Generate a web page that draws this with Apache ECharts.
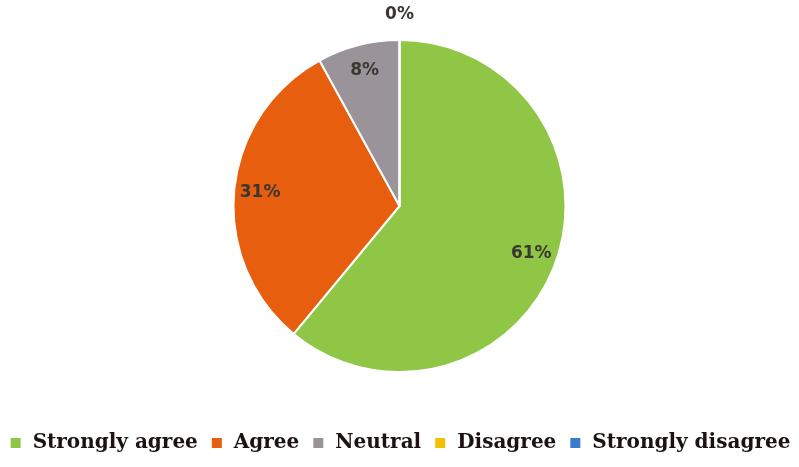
<!DOCTYPE html>
<html>
<head>
<meta charset="utf-8">
<script src="https://cdn.jsdelivr.net/npm/echarts@6/dist/echarts.min.js"></script>
<style>
html,body{margin:0;padding:0;background:#fff;}
#chart{width:799px;height:467px;}
</style>
</head>
<body>
<div id="chart"></div>
<script>
const categories = ['Strongly agree', 'Agree', 'Neutral', 'Disagree', 'Strongly disagree'];
const values = [61, 31, 8, 0, 0];
const colors = ['#90c646', '#e65e0e', '#9b939a', '#f2c200', '#3b7bcf'];

const chart = echarts.init(document.getElementById('chart'));
const center = ['50%', 206];
const mainData = categories.map((c, i) => ({ name: c, value: values[i], itemStyle: { color: colors[i] } }));
const ghostData = categories.map((c, i) => ({ name: c, value: values[i] }));
const labelFont = { fontFamily: 'DejaVu Sans', fontWeight: 'bold', fontSize: 17, color: '#3a3630' };

chart.setOption({
  animation: false,
  backgroundColor: '#fff',
  legend: {
    data: categories,
    bottom: 9,
    left: 'center',
    itemWidth: 12,
    itemHeight: 12,
    itemGap: 12,
    icon: 'rect',
    textStyle: { fontFamily: 'DejaVu Serif', fontWeight: 'bold', fontSize: 20, color: '#1c1212', padding: [0, 0, 0, 6] }
  },
  series: [
    {
      type: 'pie',
      center: center,
      radius: [0, 166],
      startAngle: 90,
      clockwise: true,
      avoidLabelOverlap: false,
      label: { show: false },
      labelLine: { show: false },
      itemStyle: { borderColor: '#fff', borderWidth: 2 },
      data: mainData
    },
    {
      type: 'pie',
      center: center,
      radius: [108, 166],
      startAngle: 90,
      silent: true,
      avoidLabelOverlap: false,
      itemStyle: { color: 'rgba(0,0,0,0)' },
      label: Object.assign({ show: true, position: 'inside', formatter: p => p.value > 0 ? p.value + '%' : '' }, labelFont),
      labelLine: { show: false },
      data: ghostData
    },
    {
      type: 'pie',
      center: center,
      radius: [178, 198],
      startAngle: 90,
      silent: true,
      avoidLabelOverlap: false,
      itemStyle: { color: 'rgba(0,0,0,0)' },
      label: Object.assign({ show: true, position: 'inside', formatter: p => (p.value === 0 && p.name === 'Disagree') ? p.value + '%' : '' }, labelFont),
      labelLine: { show: false },
      data: ghostData
    }
  ]
});
</script>
</body>
</html>
